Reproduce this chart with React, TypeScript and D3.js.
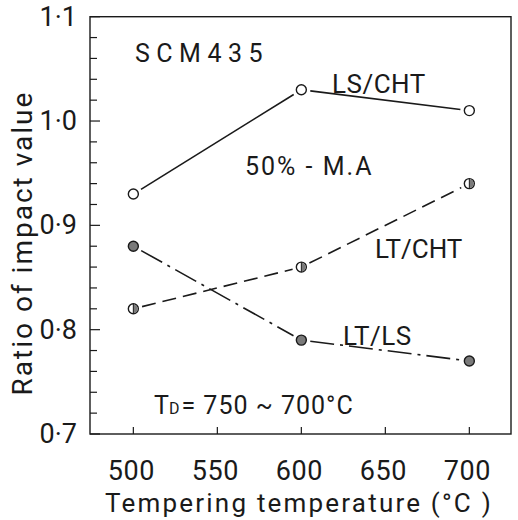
import * as d3 from "d3";
import { useEffect, useRef } from "react";

const temps = [500, 600, 700];
const lsCht = [0.93, 1.03, 1.01];
const ltCht = [0.82, 0.86, 0.94];
const ltLs = [0.88, 0.79, 0.77];
const xTicks = [500, 550, 600, 650, 700];
const yMajor = [0.7, 0.8, 0.9, 1.0, 1.1];
const yLabels = ["0·7", "0·8", "0·9", "1·0", "1·1"];

const W = 518;
const H = 520;
const margin = { top: 16.7, right: 7, bottom: 86, left: 90 };
const FONT = "Roboto, 'DejaVu Sans', sans-serif";

function drawChart(svgElement) {
  const svg = d3.select(svgElement);
  svg.selectAll("*").remove();
  svg.attr("viewBox", `0 0 ${W} ${H}`);

  const x = d3.scaleLinear().domain([474.2, 724.8]).range([margin.left, W - margin.right]);
  const y = d3.scaleLinear().domain([0.7, 1.1]).range([H - margin.bottom, margin.top]);

  const ink = "#1a1a1a";

  // frame
  svg
    .append("rect")
    .attr("x", x.range()[0])
    .attr("y", y.range()[1])
    .attr("width", x.range()[1] - x.range()[0])
    .attr("height", y.range()[0] - y.range()[1])
    .attr("fill", "none")
    .attr("stroke", ink)
    .attr("stroke-width", 1.4);

  // y ticks (inward)
  const yMinor = d3.range(0.72, 1.1, 0.02).filter((v) => !yMajor.some((m) => Math.abs(m - v) < 1e-6));
  svg
    .append("g")
    .selectAll("line")
    .data(yMinor)
    .join("line")
    .attr("x1", margin.left)
    .attr("x2", margin.left + 7)
    .attr("y1", (d) => y(d))
    .attr("y2", (d) => y(d))
    .attr("stroke", ink)
    .attr("stroke-width", 1.2);
  svg
    .append("g")
    .selectAll("line")
    .data(yMajor)
    .join("line")
    .attr("x1", margin.left)
    .attr("x2", margin.left + 10)
    .attr("y1", (d) => y(d))
    .attr("y2", (d) => y(d))
    .attr("stroke", ink)
    .attr("stroke-width", 1.2);
  svg
    .append("g")
    .selectAll("text")
    .data(yMajor)
    .join("text")
    .attr("x", 77)
    .attr("y", (d) => y(d) + 9)
    .attr("text-anchor", "end")
    .attr("font-family", FONT)
    .attr("font-size", 27)
    .attr("fill", ink)
    .text((d, i) => yLabels[i]);

  // x ticks (inward)
  svg
    .append("g")
    .selectAll("line")
    .data(xTicks)
    .join("line")
    .attr("x1", (d) => x(d))
    .attr("x2", (d) => x(d))
    .attr("y1", y(0.7))
    .attr("y2", y(0.7) - 7)
    .attr("stroke", ink)
    .attr("stroke-width", 1.2);
  svg
    .append("g")
    .selectAll("text")
    .data(xTicks)
    .join("text")
    .attr("x", (d) => x(d) - 2)
    .attr("y", 480)
    .attr("text-anchor", "middle")
    .attr("font-family", FONT)
    .attr("font-size", 27)
    .attr("letter-spacing", 0.5)
    .attr("fill", ink)
    .text((d) => d);

  // axis titles
  svg
    .append("text")
    .attr("x", 299)
    .attr("y", 512)
    .attr("text-anchor", "middle")
    .attr("font-family", FONT)
    .attr("font-size", 26)
    .attr("letter-spacing", 2.2)
    .attr("fill", ink)
    .text("Tempering temperature (°C )");
  svg
    .append("text")
    .attr("transform", "translate(32,243) rotate(-90)")
    .attr("text-anchor", "middle")
    .attr("font-family", FONT)
    .attr("font-size", 28)
    .attr("letter-spacing", 2)
    .attr("fill", ink)
    .text("Ratio of impact value");

  // series
  const series = [
    { values: lsCht, dash: null, fill: "white", half: false },
    { values: ltCht, dash: "14,7", fill: "white", half: true },
    { values: ltLs, dash: "24,6,3,6", fill: "#7a7a7a", half: false },
  ];
  const r = 5;
  const gap = r + 4;

  series.forEach((s) => {
    const pts = temps.map((t, i) => [x(t), y(s.values[i])]);
    const segs = d3.pairs(pts).map(([a, b]) => {
      const dx = b[0] - a[0];
      const dy = b[1] - a[1];
      const len = Math.hypot(dx, dy);
      const ux = dx / len;
      const uy = dy / len;
      return [
        [a[0] + ux * gap, a[1] + uy * gap],
        [b[0] - ux * gap, b[1] - uy * gap],
      ];
    });
    const line = d3.line();
    svg
      .append("g")
      .selectAll("path")
      .data(segs)
      .join("path")
      .attr("d", (d) => line(d))
      .attr("fill", "none")
      .attr("stroke", ink)
      .attr("stroke-width", 1.6)
      .attr("stroke-dasharray", s.dash);

    const g = svg.append("g");
    g.selectAll("circle")
      .data(pts)
      .join("circle")
      .attr("cx", (d) => d[0])
      .attr("cy", (d) => d[1])
      .attr("r", r)
      .attr("fill", s.fill)
      .attr("stroke", ink)
      .attr("stroke-width", 1.4);
    if (s.half) {
      const arc = d3.arc().innerRadius(0).outerRadius(r - 0.6).startAngle(0).endAngle(Math.PI);
      g.selectAll("path.half")
        .data(pts)
        .join("path")
        .attr("class", "half")
        .attr("transform", (d) => `translate(${d[0]},${d[1]})`)
        .attr("d", arc())
        .attr("fill", "#7a7a7a");
      g.selectAll("line.mid")
        .data(pts)
        .join("line")
        .attr("class", "mid")
        .attr("x1", (d) => d[0])
        .attr("x2", (d) => d[0])
        .attr("y1", (d) => d[1] - r)
        .attr("y2", (d) => d[1] + r)
        .attr("stroke", ink)
        .attr("stroke-width", 1);
    }
  });

  // annotations
  const note = (tx, ty, txt, size, spacing) =>
    svg
      .append("text")
      .attr("x", tx)
      .attr("y", ty)
      .attr("font-family", FONT)
      .attr("font-size", size)
      .attr("letter-spacing", spacing)
      .attr("fill", ink)
      .text(txt);

  note(135, 62, "SCM435", 25, 6.5);
  note(332, 93, "LS/CHT", 26, 0.5);
  note(245, 175, "50% - M.A", 25, 2);
  note(375, 258, "LT/CHT", 26, 0);
  note(343, 345, "LT/LS", 26, 0.5);

  const td = svg
    .append("text")
    .attr("x", 154)
    .attr("y", 414)
    .attr("font-family", FONT)
    .attr("font-size", 25)
    .attr("fill", ink);
  td.append("tspan").text("T");
  td.append("tspan").attr("font-size", 16).text("D");
  td.append("tspan").attr("dx", 2).attr("letter-spacing", 1).text("= 750 ~ 700°C");
}

export default function App() {
  const ref = useRef(null);
  useEffect(() => {
    drawChart(ref.current);
  }, []);
  return (
    <svg
      ref={ref}
      width={W}
      height={H}
      style={{ position: "absolute", left: 0, top: 0, background: "white" }}
    />
  );
}
